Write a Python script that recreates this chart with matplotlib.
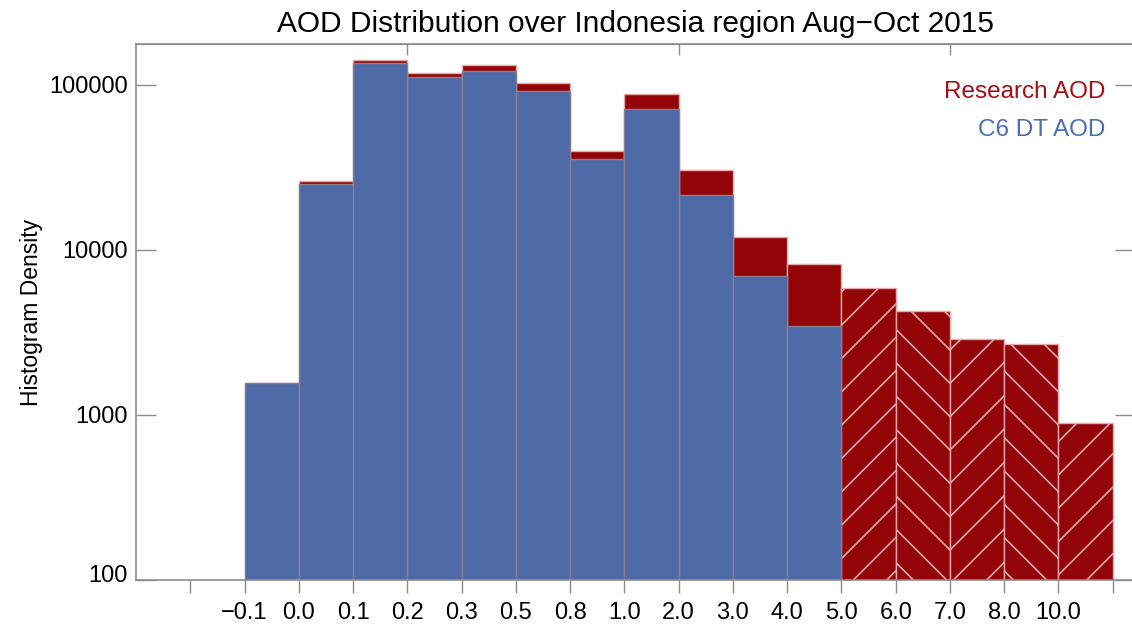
import numpy as np
import matplotlib
matplotlib.use("Agg")
from matplotlib import pyplot as plt
from matplotlib.transforms import ScaledTranslation

plt.rcParams['font.family'] = ['Liberation Sans', 'DejaVu Sans']
plt.rcParams['hatch.color'] = 'white'
plt.rcParams['hatch.linewidth'] = 1.2

# bin edge labels (edges 1..16 are labelled, outer edges left blank)
edge_labels = ['', '-0.1', '0.0', '0.1', '0.2', '0.3', '0.5', '0.8', '1.0',
               '2.0', '3.0', '4.0', '5.0', '6.0', '7.0', '8.0', '10.0', '']

# histogram densities per bin (first bin sits at the axis floor)
research_aod = [100, 1560, 26200, 141900, 118800, 132700, 102400, 40000, 88200,
                30700, 11940, 8190, 5910, 4290, 2890, 2690, 895]
c6_dt_aod = [0, 1560, 25100, 135900, 112300, 122100, 92400, 35600, 71200,
             21450, 6990, 3480, 0, 0, 0, 0, 0]
hatches = [None] * 12 + ['/', '\\', '/', '\\', '/']

red = '#920407'
blue = '#4D69A6'
gray = '#8c8c8c'

fig = plt.figure(figsize=(11.32, 6.31), dpi=100)
# right spine sits just past the picture edge, as in the source image
ax = fig.add_axes([136 / 1132, 51 / 631, (1135 - 136) / 1132, 536 / 631])

n = len(research_aod)
left_edges = np.arange(n)

for i in range(n):
    ax.bar(left_edges[i], research_aod[i], width=1, align='edge', color=red,
           edgecolor='#e8a8a8', linewidth=1.0, hatch=hatches[i])
ax.bar(left_edges, c6_dt_aod, width=1, align='edge', color=blue,
       edgecolor='#8a7f8e', linewidth=1.0)

ax.set_yscale('log')
ax.set_ylim(100, 177000)
ax.set_xlim(-1, 17.41)

ax.set_xticks(np.arange(len(edge_labels)))
ax.set_xticklabels([s.replace('-', '\u2212') for s in edge_labels], fontsize=17)
ax.set_yticks([100, 1000, 10000, 100000])
ax.set_yticklabels(['100', '1000', '10000', '100000'], fontsize=17)
ax.minorticks_off()

ax.tick_params(axis='x', direction='out', length=9.5, width=1.0, color=gray, pad=6)
ax.tick_params(axis='y', direction='in', length=14.5, width=1.0, color=gray, pad=6,
               right=True)

# lowest y label sits a little above its tick
lab = ax.yaxis.get_major_ticks()[0].label1
lab.set_transform(lab.get_transform() + ScaledTranslation(0, 0.07, fig.dpi_scale_trans))

# top axis ticks
sec = ax.secondary_xaxis('top')
sec.set_xticks([4, 9, 14])
sec.set_xticklabels([])
sec.tick_params(direction='in', length=8, width=1.0, color=gray)
sec.spines['top'].set_color(gray)

for s in ax.spines.values():
    s.set_color(gray)
    s.set_linewidth(1.2)

ax.set_ylabel('Histogram Density', fontsize=16.5, labelpad=4)
ax.set_title('AOD Distribution over Indonesia region Aug\u2212Oct 2015',
             fontsize=21.5, pad=9)

ax.text(0.97, 0.91, 'Research AOD', transform=ax.transAxes, ha='right',
        va='center', color='#a50f12', fontsize=17.5)
ax.text(0.97, 0.84, 'C6 DT AOD', transform=ax.transAxes, ha='right',
        va='center', color='#4a6db5', fontsize=17.5)

fig.savefig('out.png', dpi=100)
